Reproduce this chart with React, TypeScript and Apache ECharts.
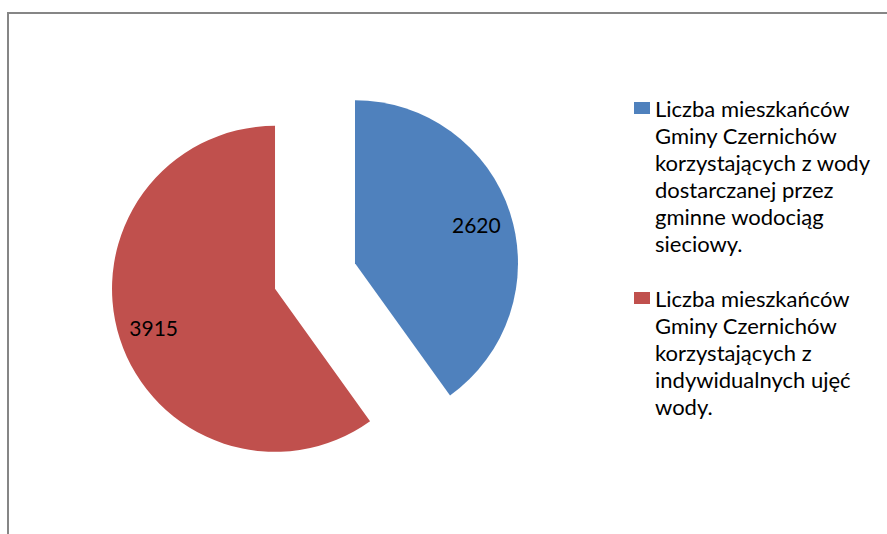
import React, { useEffect, useRef } from 'react';
import * as echarts from 'echarts';

const categories = [
  'Liczba mieszkańców Gminy Czernichów korzystających z wody dostarczanej przez gminne wodociąg sieciowy.',
  'Liczba mieszkańców Gminy Czernichów korzystających z indywidualnych ujęć wody.',
];
const legendLines = [
  ['Liczba mieszkańców', 'Gminy Czernichów', 'korzystających z wody', 'dostarczanej przez', 'gminne wodociąg', 'sieciowy.'],
  ['Liczba mieszkańców', 'Gminy Czernichów', 'korzystających z', 'indywidualnych ujęć', 'wody.'],
];
const values = [2620, 3915];
const colors = ['#4F81BD', '#C0504D'];

const FONT = 'Lato';
const LH = 27;
const ICON_W = 16;
const ICON_H = 12;
const iconTops = [102, 292];

export default function App() {
  const ref = useRef<HTMLDivElement>(null);
  useEffect(() => {
    if (!ref.current) return;
    const chart = echarts.init(ref.current, undefined, { renderer: 'svg' });
    const center = [315, 276];
    const R = 163;
    const pieData = categories.map((name, i) => ({
      name,
      value: values[i],
      selected: true,
      itemStyle: { color: colors[i] },
    }));
    const labelData = categories.map((name, i) => ({
      name,
      value: values[i],
      selected: true,
      itemStyle: { color: 'rgba(0,0,0,0)' },
    }));
    const legends = categories.map((name, i) => {
      const n = legendLines[i].length;
      // leading empty lines put the first text line level with the legend square
      const pad = new Array(n - 1).fill('').join('\n') + '\n';
      const boxTop = ICON_H / 2 - ((2 * n - 1) * LH) / 2;
      return {
        orient: 'vertical',
        left: 634,
        top: iconTops[i] + boxTop,
        padding: 0,
        icon: 'rect',
        itemWidth: ICON_W,
        itemHeight: ICON_H,
        itemGap: 5,
        selectedMode: false,
        formatter: () => pad + legendLines[i].join('\n'),
        textStyle: {
          fontFamily: FONT,
          fontSize: 22,
          lineHeight: LH,
          color: '#000',
        },
        data: [{ name, itemStyle: { color: colors[i] } }],
      };
    });
    chart.setOption({
      animation: false,
      backgroundColor: '#fff',
      graphic: [
        {
          type: 'rect',
          shape: { x: 8, y: 13, width: 1000, height: 1000 },
          style: { fill: 'none', stroke: '#868686', lineWidth: 2 },
          silent: true,
        },
      ],
      legend: legends,
      series: [
        {
          type: 'pie',
          center,
          radius: R,
          startAngle: 90,
          clockwise: true,
          selectedMode: 'multiple',
          selectedOffset: 42,
          silent: true,
          emphasis: { disabled: true },
          label: { show: false },
          labelLine: { show: false },
          data: pieData,
        },
        {
          type: 'pie',
          center,
          radius: [86, R],
          startAngle: 90,
          clockwise: true,
          selectedMode: 'multiple',
          selectedOffset: 42,
          silent: true,
          avoidLabelOverlap: false,
          emphasis: { disabled: true },
          label: {
            show: true,
            position: 'inside',
            rotate: 0,
            formatter: '{c}',
            color: '#000',
            fontFamily: FONT,
            fontSize: 21,
          },
          labelLine: { show: false },
          data: labelData,
        },
      ],
    });
    return () => chart.dispose();
  }, []);
  return (
    <div
      ref={ref}
      style={{ position: 'fixed', left: 0, top: 0, width: 887, height: 534, background: '#fff' }}
    />
  );
}
